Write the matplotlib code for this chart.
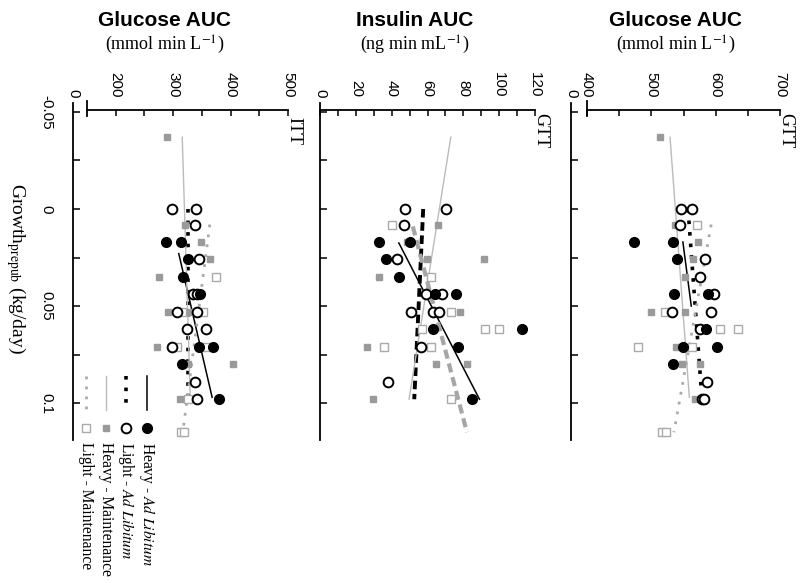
import matplotlib.pyplot as plt
import numpy as np
from matplotlib.lines import Line2D
from matplotlib.ticker import FixedLocator, FuncFormatter
from matplotlib.transforms import offset_copy

plt.rcParams['mathtext.fontset'] = 'stix'

W, H = 804, 583

groups = ['Heavy - $\\mathit{Ad\\ Libitum}$', 'Light - $\\mathit{Ad\\ Libitum}$',
          'Heavy - Maintenance', 'Light - Maintenance']

# GTT glucose AUC (mmol min L-1) vs prepubertal growth (kg/day)
gg_ha_g = [0.017, 0.017, 0.026, 0.044, 0.044, 0.062, 0.071, 0.071, 0.080]
gg_ha_v = [473, 534, 540, 535, 588, 585, 549, 602, 534]
gg_la_g = [0.0, 0.0, 0.008, 0.026, 0.035, 0.044, 0.053, 0.053, 0.062, 0.089, 0.098, 0.098]
gg_la_v = [546, 563, 545, 583, 576, 597, 532, 593, 576, 587, 579, 582]
gg_hm_g = [-0.037, 0.008, 0.017, 0.026, 0.035, 0.053, 0.053, 0.071, 0.080, 0.080, 0.098]
gg_hm_v = [513, 537, 573, 565, 552, 500, 552, 538, 547, 576, 568]
gg_lm_g = [0.008, 0.053, 0.062, 0.062, 0.071, 0.071, 0.115, 0.115]
gg_lm_v = [571, 521, 607, 635, 479, 563, 516, 523]
# regression lines: (growth start, growth end, value start, value end)
gg_fit = [(0.017, 0.050, 549, 562), (0.0, 0.095, 557, 578),
          (-0.037, 0.097, 529, 559), (0.008, 0.115, 593, 535)]

# GTT insulin AUC (ng min mL-1)
ins_ha_g = [0.017, 0.017, 0.026, 0.035, 0.044, 0.044, 0.062, 0.062, 0.071, 0.098]
ins_ha_v = [33, 50, 37, 44, 64, 76, 63, 113, 77, 85]
ins_la_g = [0.0, 0.0, 0.008, 0.026, 0.044, 0.044, 0.053, 0.053, 0.053, 0.071, 0.089]
ins_la_v = [47.5, 70.5, 47, 43, 59, 68, 51, 63, 66.5, 56.5, 38]
ins_hm_g = [0.008, 0.017, 0.026, 0.026, 0.035, 0.053, 0.071, 0.080, 0.080, 0.098]
ins_hm_v = [66, 48.5, 59.5, 91.5, 33, 78, 26.5, 65, 82, 29.5]
ins_lm_g = [0.008, 0.035, 0.053, 0.062, 0.062, 0.062, 0.071, 0.071, 0.098]
ins_lm_v = [40, 62, 73, 57, 92, 100, 36, 62, 73]
ins_fit = [(0.0175, 0.098, 44, 89), (0.0, 0.098, 57.6, 52.6),
           (-0.037, 0.098, 73, 49.7), (0.009, 0.115, 51.8, 82)]

# ITT glucose AUC (mmol min L-1)
itt_ha_g = [0.017, 0.017, 0.026, 0.035, 0.044, 0.071, 0.071, 0.080, 0.098]
itt_ha_v = [288, 314, 326, 317, 347, 345, 370, 316, 380]
itt_la_g = [0.0, 0.0, 0.008, 0.026, 0.044, 0.044, 0.053, 0.053, 0.062, 0.062, 0.071, 0.089, 0.098]
itt_la_v = [298, 340, 338, 345, 335, 342, 307, 342, 324, 357, 298, 338, 342]
itt_hm_g = [-0.037, 0.008, 0.017, 0.026, 0.035, 0.053, 0.053, 0.071, 0.080, 0.080, 0.098]
itt_hm_v = [290, 321, 349, 364, 276, 291, 330, 272, 326, 404, 312]
itt_lm_g = [0.035, 0.053, 0.053, 0.071, 0.071, 0.098, 0.115, 0.115]
itt_lm_v = [375, 316, 352, 307, 357, 326, 314, 319]
itt_fit = [(0.023, 0.097, 310, 368), (0.0, 0.097, 326, 326),
           (-0.037, 0.097, 316, 330), (0.008, 0.115, 364, 317)]

marker_styles = [
    dict(marker='o', mfc='black', mec='black', ms=7),
    dict(marker='o', mfc='white', mec='black', mew=1.4, ms=7),
    dict(marker='s', mfc='#9a9a9a', mec='#9a9a9a', ms=5),
    dict(marker='s', mfc='white', mec='#aaaaaa', mew=1, ms=6),
]
dotted_lines = [
    dict(color='black', lw=1.1, ls='-'),
    dict(color='black', lw=2.6, ls=(0, (1, 2.2))),
    dict(color='#bbbbbb', lw=1.0, ls='-'),
    dict(color='#aaaaaa', lw=2.0, ls=(0, (1, 2.6))),
]
dashed_lines = [
    dict(color='black', lw=1.1, ls='-'),
    dict(color='black', lw=2.8, ls=(0, (2.2, 1.2))),
    dict(color='#bbbbbb', lw=1.0, ls='-'),
    dict(color='#a6a6a6', lw=3.0, ls=(0, (2.2, 1.2))),
]

serif = 'Liberation Serif'
sans = 'Liberation Sans'


def fx(x):
    return x / W


def fy(y):
    return 1 - y / H


fig = plt.figure(figsize=(W / 100, H / 100), dpi=100)

panels = [
    # label, title, unit, left px, right px, xlim, axis start, majors, minors, title x,
    # points, fits, line styles
    ('ITT', 'Glucose AUC', r'(mmol min L$^{-1}$)', 73, 288, (126, 500), 150,
     [200, 300, 400, 500], [250, 350, 450], 165,
     [(itt_ha_g, itt_ha_v), (itt_la_g, itt_la_v), (itt_hm_g, itt_hm_v), (itt_lm_g, itt_lm_v)],
     itt_fit, dotted_lines),
    ('GTT', 'Insulin AUC', r'(ng min mL$^{-1}$)', 320, 535, (0, 120), 0,
     list(range(0, 121, 20)), list(range(10, 120, 20)), 415,
     [(ins_ha_g, ins_ha_v), (ins_la_g, ins_la_v), (ins_hm_g, ins_hm_v), (ins_lm_g, ins_lm_v)],
     ins_fit, dashed_lines),
    ('GTT', 'Glucose AUC', r'(mmol min L$^{-1}$)', 571, 780, (375, 700), 400,
     [400, 500, 600, 700], [450, 550, 650], 676,
     [(gg_ha_g, gg_ha_v), (gg_la_g, gg_la_v), (gg_hm_g, gg_hm_v), (gg_lm_g, gg_lm_v)],
     gg_fit, dotted_lines),
]

top_px, bot_px = 103, 440
g_top, g_bot = -0.0546, 0.119
axis_g = -0.051

for i, (lab, title, unit, left, right, xlim, start, majors, minors, tx,
        pts, fits, lstyles) in enumerate(panels):
    ax = fig.add_axes([fx(left), fy(bot_px), (right - left) / W, (bot_px - top_px) / H])
    for (g0, g1, v0, v1), st in zip(fits, lstyles):
        ax.plot([v0, v1], [g0, g1], zorder=2, **st)
    for k in [3, 2, 1, 0]:
        g, v = pts[k]
        ax.plot(v, g, ls='none', zorder=3, **marker_styles[k])
    ax.set_xlim(*xlim)
    ax.set_ylim(g_bot, g_top)

    ax.spines['right'].set_visible(False)
    ax.spines['bottom'].set_visible(False)
    ax.spines['top'].set_position(('data', axis_g))
    ax.spines['top'].set_bounds(start, xlim[1])
    for s in ['top', 'left']:
        ax.spines[s].set_linewidth(1.3)

    ax.xaxis.tick_top()
    ax.xaxis.set_major_locator(FixedLocator(majors))
    ax.xaxis.set_minor_locator(FixedLocator(minors))
    ax.tick_params(axis='x', which='both', direction='in', length=4, width=1.1,
                   top=True, bottom=False, labelbottom=False)
    ax.tick_params(axis='x', which='major', labelrotation=-90, pad=9, labelsize=11)
    for t in ax.get_xticklabels():
        t.set_fontfamily(sans)

    ax.yaxis.set_major_locator(FixedLocator([-0.05, 0, 0.05, 0.1]))
    ax.yaxis.set_minor_locator(FixedLocator([-0.025, 0.025, 0.075]))
    ax.yaxis.set_major_formatter(FuncFormatter(lambda v, p: '0' if abs(v) < 1e-9 else f'{v:g}'))
    ax.tick_params(axis='y', which='both', direction='in', length=5, width=1.1)
    if i == 0:
        ax.tick_params(axis='y', which='major', labelrotation=-90, pad=14, labelsize=11)
        for t in ax.get_yticklabels():
            t.set_fontfamily(sans)
            t.set_va('center')
    else:
        ax.tick_params(axis='y', labelleft=False)

    if start != xlim[0]:
        # axis break and origin label
        ax.plot([start, start], [-0.0557, -0.0478], color='black', lw=1.3,
                clip_on=False, zorder=4)
        tr = offset_copy(ax.transData, fig=fig, y=9, units='points')
        ax.text(xlim[0], axis_g, '0', transform=tr, rotation=-90, ha='center',
                va='bottom', fontsize=11, family=sans)

    fig.text(fx(right + 6), fy(131), lab, rotation=-90, ha='center', va='center',
             fontsize=13, family=serif)
    fig.text(fx(tx), fy(20), title, ha='center', va='center', fontsize=15,
             family=sans, weight='bold')
    fig.text(fx(tx), fy(45), unit, ha='center', va='center', fontsize=13, family=serif)

fig.text(fx(16), fy(268), r'Growth$_{\mathrm{prepub}}$ (kg/day)', rotation=-90,
         ha='center', va='center', fontsize=14, family=serif)

# legend
leg_x = [147, 126, 106, 86]
for k, x in enumerate(leg_x):
    st = dotted_lines[k]
    fig.add_artist(Line2D([fx(x), fx(x)], [fy(376), fy(410)], transform=fig.transFigure,
                          **st))
    fig.add_artist(Line2D([fx(x)], [fy(428)], transform=fig.transFigure, ls='none',
                          **marker_styles[k]))
    fig.text(fx(x), fy(442), groups[k], rotation=-90, ha='center', va='top',
             fontsize=11.2, family=serif)

fig.savefig('out.png', dpi=100)
